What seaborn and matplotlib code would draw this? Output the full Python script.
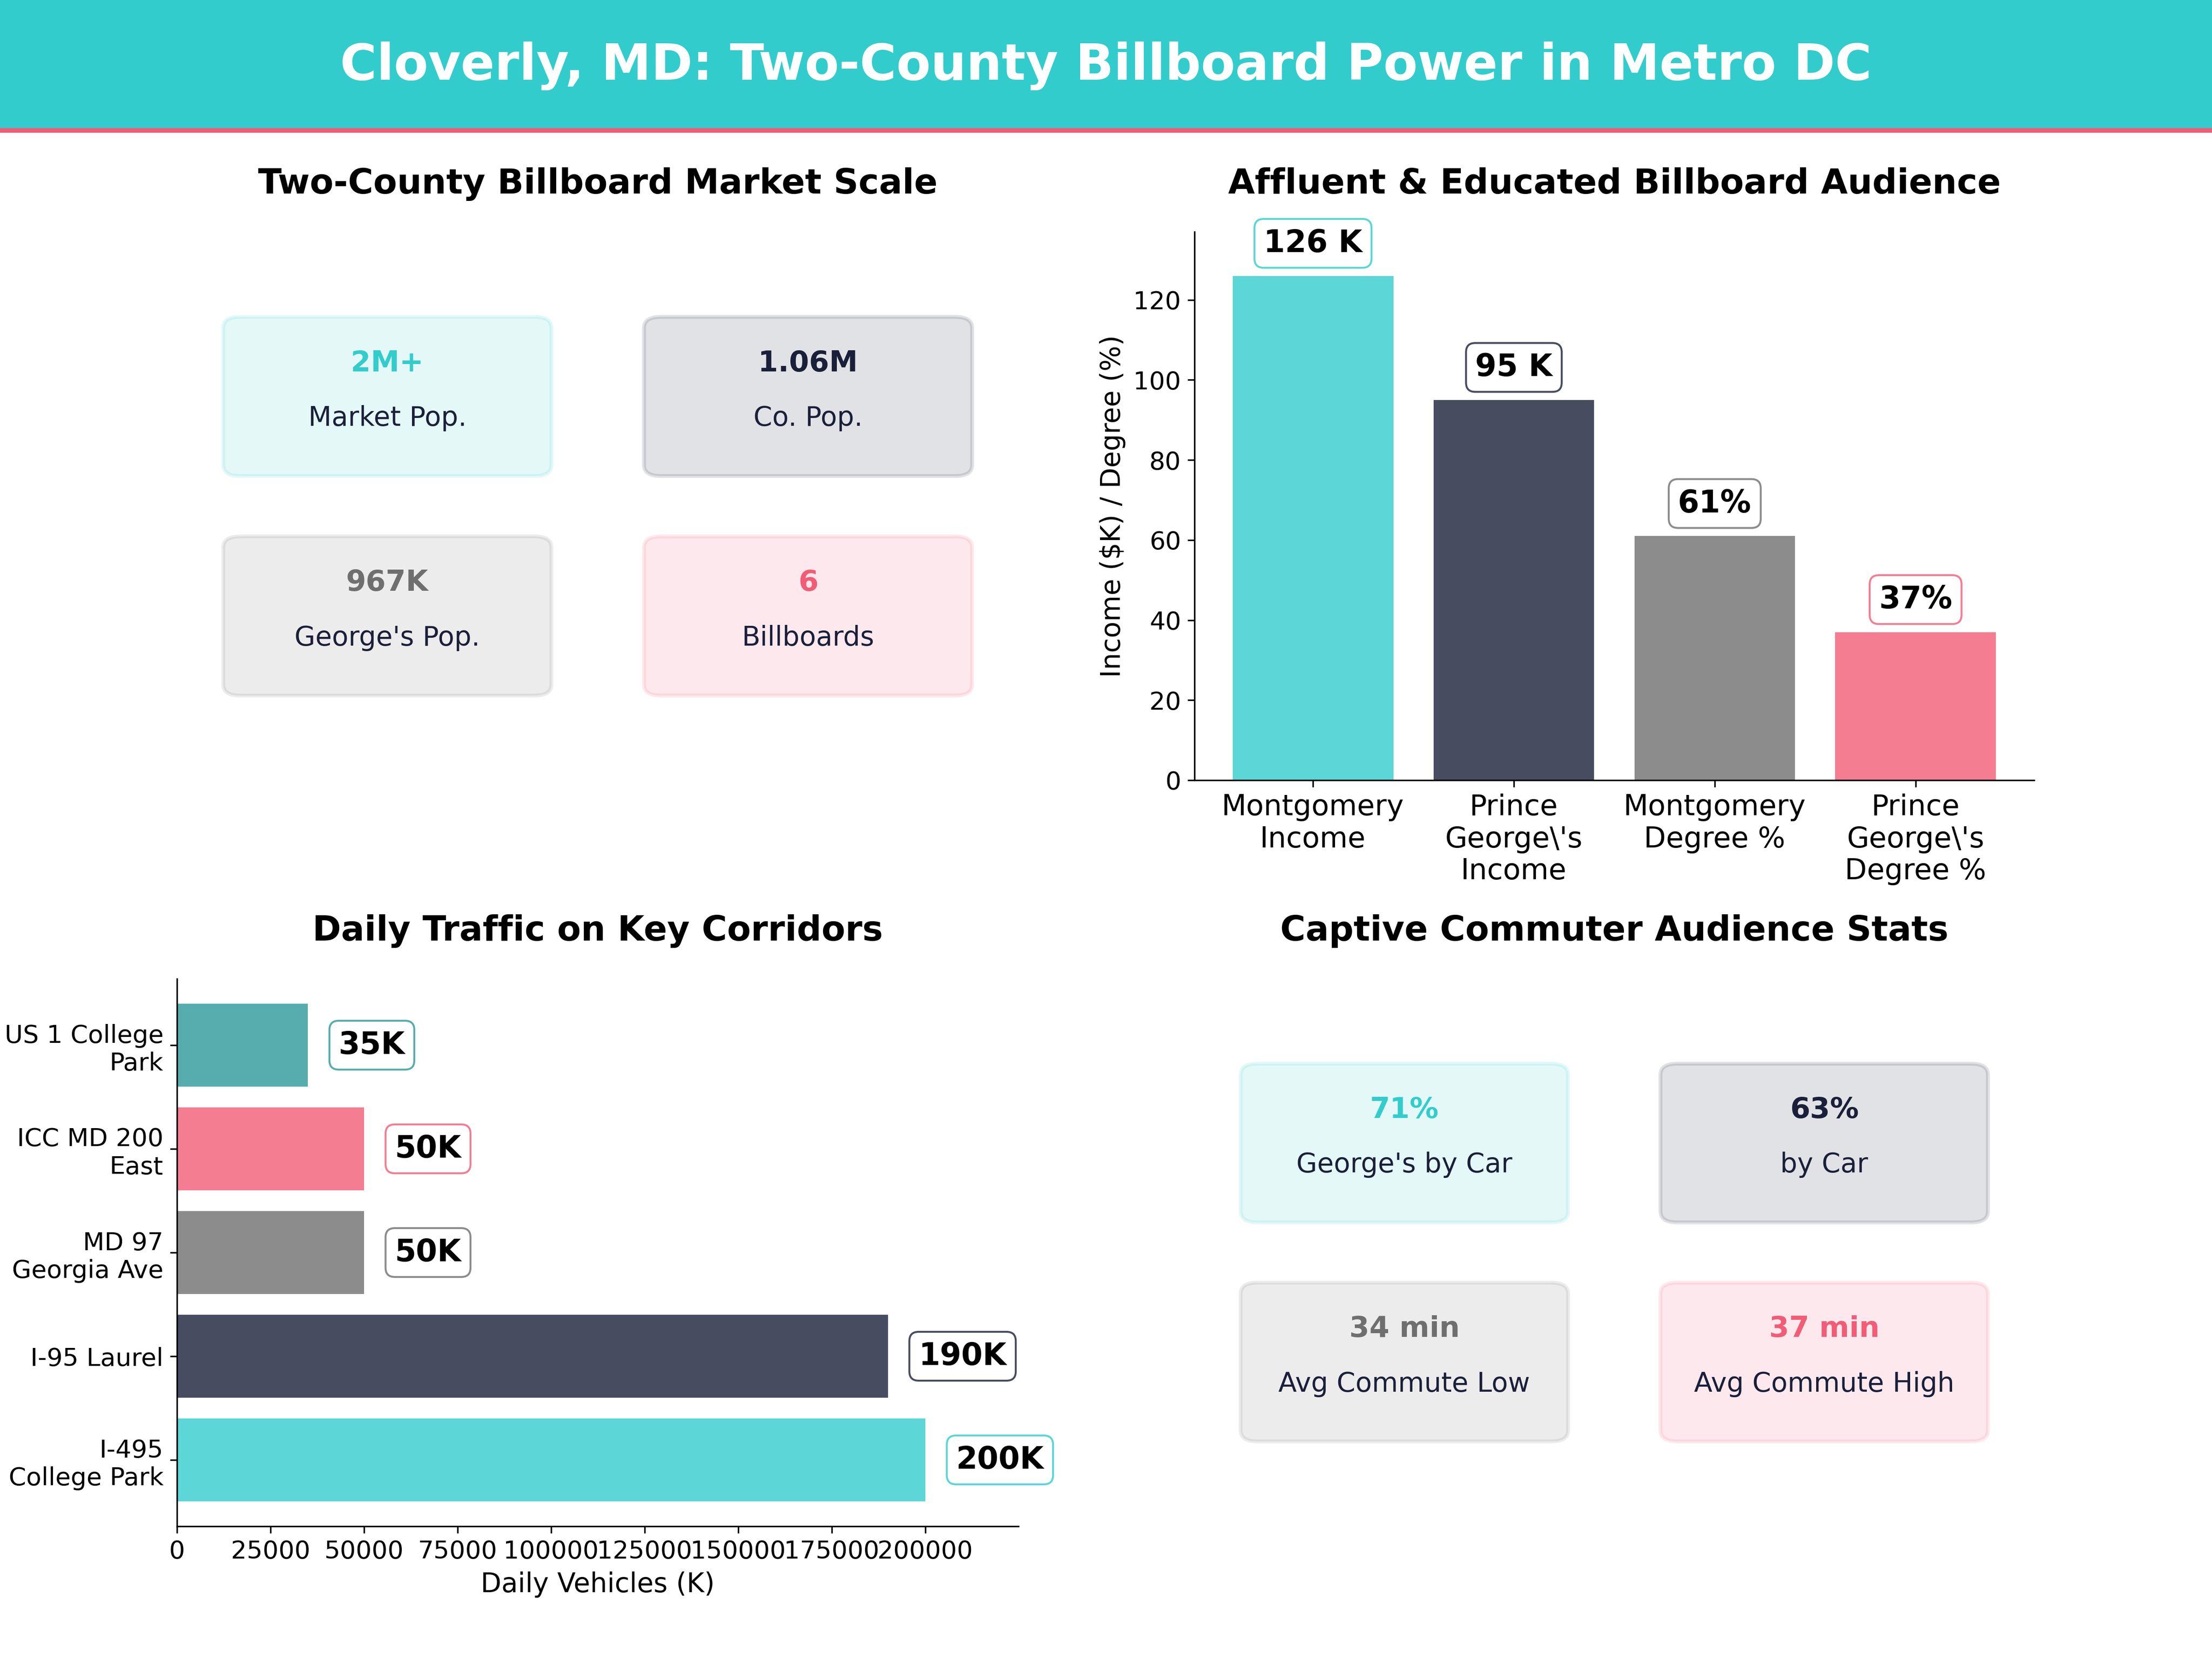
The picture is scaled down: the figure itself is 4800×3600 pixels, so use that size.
import matplotlib
matplotlib.use('Agg')
import matplotlib.pyplot as plt
from matplotlib.patches import FancyBboxPatch, Rectangle
import pandas as pd
import seaborn as sns

TEAL = '#33CCCC'
NAVY = '#1A1F3A'
GRAY = '#6F6F6F'
PINK = '#F25C76'
DARK_TEAL = '#2D9999'

market_values = ['2M+', '1.06M', '967K', '6']
market_labels = ['Market Pop.', 'Co. Pop.', "George's Pop.", 'Billboards']

commute_values = ['71%', '63%', '34 min', '37 min']
commute_labels = ["George's by Car", 'by Car', 'Avg Commute Low', 'Avg Commute High']

audience_cats = ['Montgomery\nIncome', "Prince\nGeorge\\'s\nIncome", 'Montgomery\nDegree %', "Prince\nGeorge\\'s\nDegree %"]
audience_vals = [126, 95, 61, 37]
audience_text = ['126 K', '95 K', '61%', '37%']

# top to bottom, the way the chart reads
road_cats = ['US 1 College\nPark', 'ICC MD 200\nEast', 'MD 97\nGeorgia Ave', 'I-95 Laurel', 'I-495\nCollege Park']
road_vals = [35000, 50000, 50000, 190000, 200000]
road_text = ['35K', '50K', '50K', '190K', '200K']

W, H = 4800.0, 3600.0
TITLE_PAD = 20


def px_axes(fig, left, right, top, bottom):
    return fig.add_axes([left / W, 1 - bottom / H, (right - left) / W, (bottom - top) / H])


def draw_cards(ax, values, labels, title):
    colors = [TEAL, NAVY, GRAY, PINK]
    spots = [(0.075, 0.575), (0.575, 0.575), (0.075, 0.175), (0.575, 0.175)]
    ax.set_xlim(0, 1)
    ax.set_ylim(0, 1)
    ax.axis('off')
    for (x, y), c, v, l in zip(spots, colors, values, labels):
        ax.add_patch(FancyBboxPatch((x, y), 0.35, 0.25, boxstyle='round,pad=0.02',
                                    facecolor=c, edgecolor=c, linewidth=2, alpha=0.13))
        ax.text(x + 0.175, y + 0.185, v, ha='center', va='center', fontsize=15,
                fontweight='bold', color=c)
        ax.text(x + 0.175, y + 0.085, l, ha='center', va='center', fontsize=14, color=NAVY)
    ax.set_title(title, fontsize=18, fontweight='bold', pad=TITLE_PAD)


def value_box(ax, text, color, xy, offset, **kw):
    ax.annotate(text, xy=xy, xytext=offset, textcoords='offset points', fontsize=16,
                fontweight='bold', color='black', annotation_clip=False,
                bbox=dict(boxstyle='round,pad=0.3', facecolor='white', edgecolor=color,
                          linewidth=1.0, alpha=0.8), **kw)


sns.set_theme(style='ticks', rc={
    'axes.edgecolor': 'black', 'xtick.color': 'black', 'ytick.color': 'black',
    'text.color': 'black', 'axes.labelcolor': 'black', 'axes.linewidth': 0.8,
    'xtick.major.width': 0.8, 'ytick.major.width': 0.8,
    'xtick.major.size': 3.5, 'ytick.major.size': 3.5,
})
plt.rcParams['font.family'] = ['DejaVu Sans']

fig = plt.figure(figsize=(16, 12), dpi=300, facecolor='white')

# header band
fig.add_artist(Rectangle((0, 1 - 278 / H), 1, 278 / H, transform=fig.transFigure,
                         facecolor=TEAL, edgecolor='none'))
fig.add_artist(Rectangle((0, 1 - 288 / H), 1, 10 / H, transform=fig.transFigure,
                         facecolor=PINK, edgecolor='none'))
fig.text(0.5, 1 - 143 / H, 'Cloverly, MD: Two-County Billboard Power in Metro DC',
         ha='center', va='center', fontsize=26, fontweight='bold', color='white')

ax_market = px_axes(fig, 384, 2210, 503, 1694)
ax_income = px_axes(fig, 2592, 4414, 503, 1693)
ax_roads = px_axes(fig, 384, 2210, 2124, 3312)
ax_commute = px_axes(fig, 2592, 4414, 2124, 3312)

draw_cards(ax_market, market_values, market_labels, 'Two-County Billboard Market Scale')
draw_cards(ax_commute, commute_values, commute_labels, 'Captive Commuter Audience Stats')

# income / degree bars
income_colors = [TEAL, NAVY, GRAY, PINK]
df_income = pd.DataFrame({'cat': audience_cats, 'val': audience_vals})
sns.barplot(data=df_income, x='cat', y='val', hue='cat', palette=income_colors, legend=False,
            width=0.8, saturation=1, alpha=0.8, linewidth=0, ax=ax_income)
ax_income.set_xlim(-0.59, 3.59)
ax_income.set_ylim(0, 137)
ax_income.set_xlabel('')
ax_income.set_ylabel('Income ($K) / Degree (%)', fontsize=14)
ax_income.tick_params(axis='x', labelsize=15)
ax_income.tick_params(axis='y', labelsize=13)
ax_income.set_title('Affluent & Educated Billboard Audience', fontsize=18, fontweight='bold', pad=TITLE_PAD)
for i, (v, t, c) in enumerate(zip(audience_vals, audience_text, income_colors)):
    value_box(ax_income, t, c, (i, v), (0, 9), ha='center', va='bottom')

# corridor bars
road_colors = [DARK_TEAL, PINK, GRAY, NAVY, TEAL]
df_roads = pd.DataFrame({'road': road_cats, 'val': road_vals})
sns.barplot(data=df_roads, y='road', x='val', hue='road', palette=road_colors, legend=False,
            width=0.8, saturation=1, alpha=0.8, linewidth=0, orient='h', ax=ax_roads)
ax_roads.set_xlim(0, 224900)
ax_roads.set_ylim(4.64, -0.64)
ax_roads.set_ylabel('')
ax_roads.set_xlabel('Daily Vehicles (K)', fontsize=14)
ax_roads.tick_params(axis='both', labelsize=13)
ax_roads.set_title('Daily Traffic on Key Corridors', fontsize=18, fontweight='bold', pad=TITLE_PAD)
for i, (v, t, c) in enumerate(zip(road_vals, road_text, road_colors)):
    value_box(ax_roads, t, c, (v, i), (16, 0), ha='left', va='center')

sns.despine(ax=ax_income)
sns.despine(ax=ax_roads)

fig.savefig('out.png', dpi=300, facecolor='white')
